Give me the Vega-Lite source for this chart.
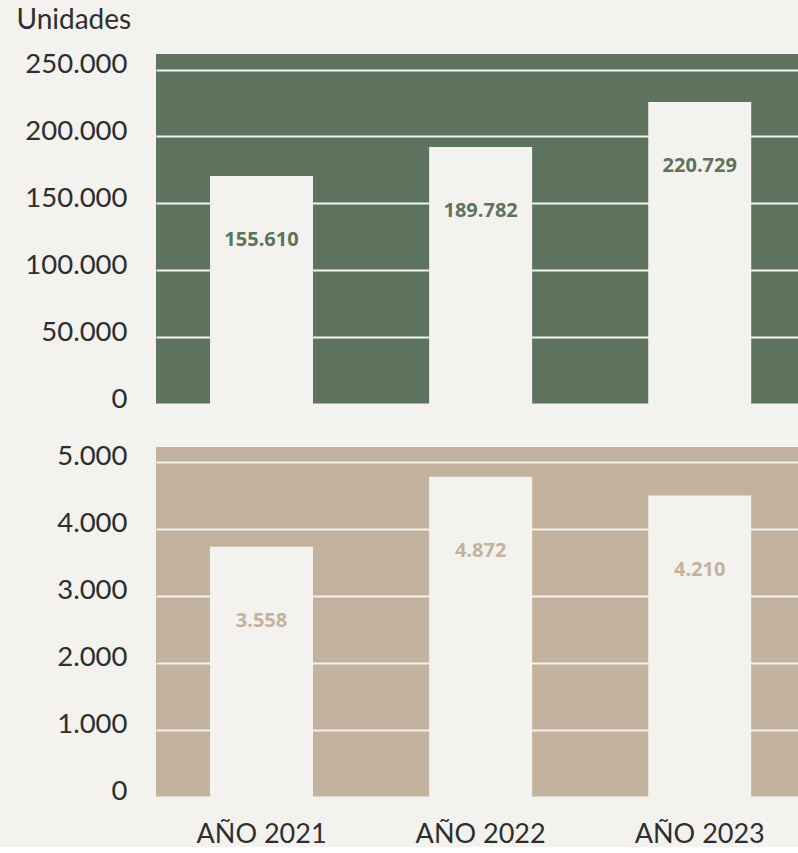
{
  "$schema": "https://vega.github.io/schema/vega-lite/v6.json",
  "background": "#f3f2ee",
  "padding": {"left": 16, "top": 6, "right": 0, "bottom": 0},
  "bounds": "flush",
  "spacing": 43,
  "config": {
    "locale": {"number": {"decimal": ",", "thousands": ".", "grouping": [3], "currency": ["", " €"]}},
    "font": "Lato",
    "view": {"stroke": null},
    "axis": {
      "domain": false,
      "ticks": false,
      "labelFont": "Lato",
      "labelFontSize": 27.5,
      "labelColor": "#2e2e2e",
      "gridColor": "#f3f2ee",
      "gridWidth": 2,
      "gridOpacity": 1
    }
  },
  "vconcat": [
    {
      "width": 642,
      "height": 350,
      "view": {"fill": "#5d735d", "stroke": null},
      "data": {"values": [
        {"year": "AÑO 2021", "bar": 170400, "value": 155610},
        {"year": "AÑO 2022", "bar": 192100, "value": 189782},
        {"year": "AÑO 2023", "bar": 225700, "value": 220729}
      ]},
      "encoding": {
        "x": {"field": "year", "type": "nominal", "sort": null, "axis": null,
              "scale": {"paddingInner": 0.53, "paddingOuter": 0.23, "align": 0.536}}
      },
      "layer": [
        {
          "mark": {"type": "bar", "color": "#f3f2ee"},
          "encoding": {
            "y": {"field": "bar", "type": "quantitative",
                  "scale": {"domain": [0, 261600], "nice": false, "zero": true},
                  "axis": {
                    "values": [0, 50000, 100000, 150000, 200000, 250000],
                    "format": ",.0f",
                    "grid": true,
                    "labelPadding": 29,
                    "labelOffset": -5,
                    "labelFlush": false,
                    "title": "Unidades",
                    "titleAngle": 0,
                    "titleAlign": "left",
                    "titleBaseline": "alphabetic",
                    "titleX": -140,
                    "titleY": -26,
                    "titleFont": "Lato",
                    "titleFontSize": 28,
                    "titleFontWeight": "normal",
                    "titleColor": "#2e2e2e"
                  }}
          }
        },
        {
          "mark": {"type": "text", "dy": 64, "font": "Open Sans", "fontWeight": "bold", "fontSize": 20, "color": "#5d735d", "baseline": "middle"},
          "encoding": {
            "y": {"field": "bar", "type": "quantitative"},
            "text": {"field": "value", "type": "quantitative", "format": ",.0f"}
          }
        }
      ]
    },
    {
      "width": 642,
      "height": 350,
      "view": {"fill": "#c3b29e", "stroke": null},
      "data": {"values": [
        {"year": "AÑO 2021", "bar": 3737, "value": 3558},
        {"year": "AÑO 2022", "bar": 4783, "value": 4872},
        {"year": "AÑO 2023", "bar": 4504, "value": 4210}
      ]},
      "encoding": {
        "x": {"field": "year", "type": "nominal", "sort": null,
              "scale": {"paddingInner": 0.53, "paddingOuter": 0.23, "align": 0.536},
              "axis": {"title": null, "labelAngle": 0, "labelPadding": 24, "labelFontSize": 27}}
      },
      "layer": [
        {
          "mark": {"type": "bar", "color": "#f3f2ee"},
          "encoding": {
            "y": {"field": "bar", "type": "quantitative",
                  "scale": {"domain": [0, 5229], "nice": false, "zero": true},
                  "axis": {
                    "values": [0, 1000, 2000, 3000, 4000, 5000],
                    "format": ",.0f",
                    "grid": true,
                    "labelPadding": 29,
                    "labelOffset": -6,
                    "labelFlush": false,
                    "title": null
                  }}
          }
        },
        {
          "mark": {"type": "text", "dy": 74, "font": "Open Sans", "fontWeight": "bold", "fontSize": 20, "color": "#c3b29e", "baseline": "middle"},
          "encoding": {
            "y": {"field": "bar", "type": "quantitative"},
            "text": {"field": "value", "type": "quantitative", "format": ",.0f"}
          }
        }
      ]
    }
  ]
}
